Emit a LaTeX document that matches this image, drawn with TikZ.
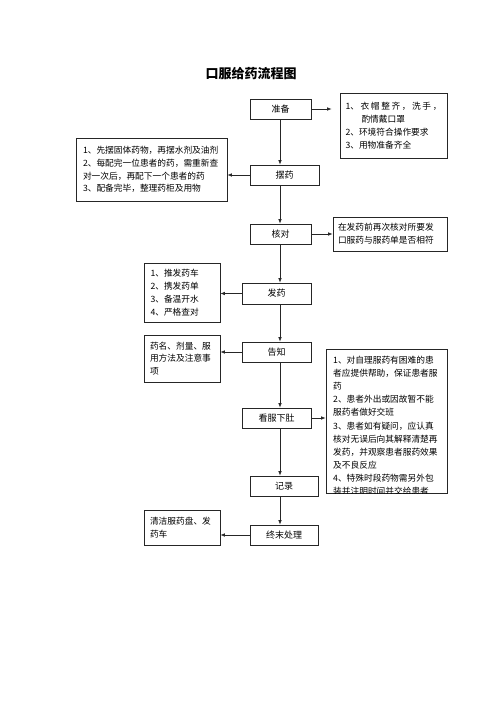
\documentclass[tikz,border=0pt]{standalone}
\usepackage{fontspec}
\setmainfont{Noto Sans CJK SC}
\usetikzlibrary{arrows.meta,calc}
\begin{document}
\begin{tikzpicture}[x=1pt,y=-1pt,
  ln/.style={draw=black!85, line width=0.7pt},
  mainbox/.style={ln, rectangle, minimum height=20pt, inner sep=0pt, font=\fontsize{9}{11}\selectfont},
  sidebox/.style={ln, rectangle, inner sep=0pt, align=left, font=\fontsize{8.7}{12.8}\selectfont},
  txt/.style={inner sep=0pt, align=left, font=\fontsize{8.7}{13.1}\selectfont},
  arr/.style={ln, -{Latex[length=4.5pt,width=3.6pt]}}]
\fill[white] (0,0) rectangle (500,707);
\useasboundingbox (0,0) rectangle (500,707);

\node[font=\bfseries\fontsize{13}{15}\selectfont] (title) at (251,73.5) {口服给药流程图};

\coordinate (colx) at (280,0);

% main column
\node[mainbox, minimum width=61pt] (zb) at (280.5,109) {准备};
\node[mainbox, minimum width=69pt] (bh) at (284.5,175) {摆药};
\node[mainbox, minimum width=61pt] (hd) at (280.5,234) {核对};
\node[mainbox, minimum width=69pt, minimum height=21pt] (fy) at (276.5,293.5) {发药};
\node[mainbox, minimum width=69pt] (gz) at (276.5,352) {告知};
\node[mainbox, minimum width=69pt] (kf) at (276.5,418) {看服下肚};
\node[mainbox, minimum width=68pt] (jl) at (284,486) {记录};
\node[mainbox, minimum width=68pt] (zm) at (284,535) {终末处理};

% side boxes
\node[sidebox, minimum width=107pt, minimum height=65pt, text width=96pt] (r1) at (393.5,125.5)
  {\makebox[96pt][l]{1、\hfill 衣\hfill 帽\hfill 整\hfill 齐\hfill ，\hfill 洗\hfill 手\hfill ，}\\
   \hspace*{16pt}酌情戴口罩\\
   2、环境符合操作要求\\
   3、用物准备齐全};
\node[sidebox, minimum width=151pt, minimum height=63pt, text width=137pt] (l1) at (151.5,169.5)
  {1、先摆固体药物，再摆水剂及油剂\\
   2、每配完一位患者的药，需重新查\\
   对一次后，再配下一个患者的药\\
   3、配备完毕，整理药柜及用物};
\node[sidebox, minimum width=114pt, minimum height=34pt, text width=104pt] (r2) at (390,234)
  {在发药前再次核对所要发\\口服药与服药单是否相符};
\node[sidebox, minimum width=76pt, minimum height=59pt, text width=63pt] (l2) at (182,292.5)
  {1、推发药车\\2、携发药单\\3、备温开水\\4、严格查对};
\node[sidebox, minimum width=76pt, minimum height=47pt, text width=64pt] (l3) at (182,358.5)
  {药名、剂量、服\\用方法及注意事\\项};
\node[sidebox, minimum width=76pt, minimum height=35pt, text width=64pt] (l4) at (182,527.5)
  {清洁服药盘、发\\药车};
\node[ln, rectangle, inner sep=0pt, minimum width=121pt, minimum height=144pt] (r3) at (386.5,421) {};
\begin{scope}
  \clip (r3.north west) rectangle (r3.south east);
  \node[txt, text width=108pt, anchor=north west] (r3t) at (333,356)
  {1、对自理服药有困难的患\\
   者应提供帮助，保证患者服\\
   药\\
   2、患者外出或因故暂不能\\
   服药者做好交班\\
   3、患者如有疑问，应认真\\
   核对无误后向其解释清楚再\\
   发药，并观察患者服药效果\\
   及不良反应\\
   4、特殊时段药物需另外包\\
   装并注明时间并交给患者};
\end{scope}

% vertical connectors
\foreach \a/\b in {zb/bh,bh/hd,hd/fy,fy/gz,gz/kf,kf/jl,jl/zm}
  \draw[arr] (\a.south -| colx) -- (\b.north -| colx);

% horizontal connectors
\draw[arr, shorten >=8pt] (zb.east) -- (zb.east -| r1.west);
\draw[arr] (bh.west) -- (bh.west -| l1.east);
\draw[arr] (hd.east) -- (hd.east -| r2.west);
\draw[arr] (fy.west) -- (fy.west -| l2.east);
\draw[arr] (gz.west) -- (gz.west -| l3.east);
\draw[arr] (kf.east) -- (kf.east -| r3.west);
\draw[arr] (zm.west) -- (zm.west -| l4.east);
\end{tikzpicture}
\end{document}
